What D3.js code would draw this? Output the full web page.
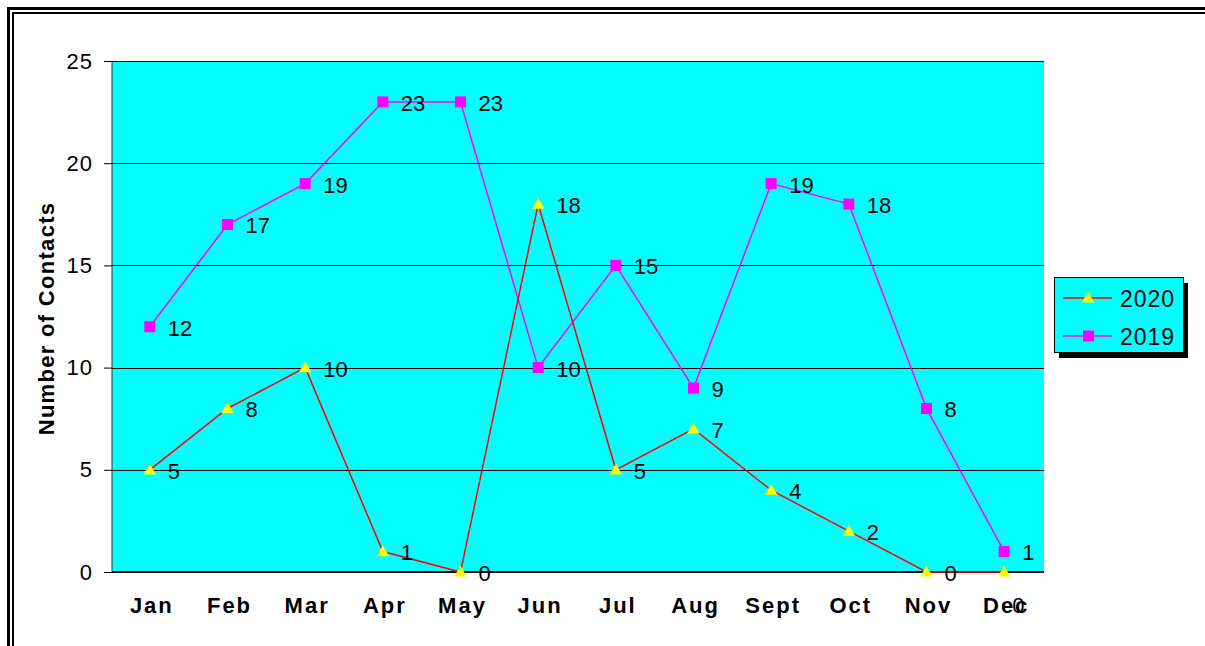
<!DOCTYPE html>
<html>
<head>
<meta charset="utf-8">
<script src="https://cdn.jsdelivr.net/npm/d3@7"></script>
<style>
  body { margin: 0; background: #fff; }
  svg { display: block; font-family: "Liberation Sans", Arial, sans-serif; }
</style>
</head>
<body>
<script>
// chart data
const months = ["Jan", "Feb", "Mar", "Apr", "May", "Jun", "Jul", "Aug", "Sept", "Oct", "Nov", "Dec"];
const values2020 = [5, 8, 10, 1, 0, 18, 5, 7, 4, 2, 0, 0];
const values2019 = [12, 17, 19, 23, 23, 10, 15, 9, 19, 18, 8, 1];
const yTicks = [0, 5, 10, 15, 20, 25];
const seriesNames = ["2020", "2019"];

const W = 1205, H = 646;
const plot = {left: 112, top: 61, right: 1044, bottom: 572};

const svg = d3.select("body").append("svg")
  .attr("width", W)
  .attr("height", H);

// double frame round the chart
svg.append("rect").attr("x", 8.5).attr("y", 8.5).attr("width", W + 20).attr("height", H + 20)
  .attr("fill", "none").attr("stroke", "#000").attr("stroke-width", 3);
svg.append("rect").attr("x", 13).attr("y", 13).attr("width", W + 20).attr("height", H + 20)
  .attr("fill", "none").attr("stroke", "#000").attr("stroke-width", 2);

const x = d3.scaleBand().domain(months).range([plot.left, plot.right]);
const y = d3.scaleLinear().domain([0, 25]).range([plot.bottom, plot.top]);
const cx = m => x(m) + x.bandwidth() / 2 - 1;

// plot background
svg.append("rect")
  .attr("x", plot.left).attr("y", plot.top)
  .attr("width", plot.right - plot.left).attr("height", plot.bottom - plot.top)
  .attr("fill", "#00ffff");

// gridlines
svg.append("g").selectAll("line")
  .data(yTicks.filter(t => t > 0))
  .enter().append("line")
  .attr("x1", plot.left).attr("x2", plot.right)
  .attr("y1", d => Math.round(y(d)) + 0.5).attr("y2", d => Math.round(y(d)) + 0.5)
  .attr("stroke", "#000").attr("stroke-width", 1);

// y axis
const yAxis = svg.append("g")
  .attr("transform", `translate(${plot.left},0)`)
  .call(d3.axisLeft(y).tickValues(yTicks).tickSize(8).tickPadding(11));
yAxis.selectAll("text").attr("font-size", 22).attr("fill", "#000").attr("letter-spacing", 1)
  .attr("font-family", "Liberation Sans, Arial, sans-serif");
yAxis.selectAll("line").attr("stroke", "#000");
yAxis.select(".domain").attr("stroke", "#333").attr("d", `M0,${plot.top}V${plot.bottom}`);

// x axis
const xAxis = svg.append("g")
  .attr("transform", `translate(0,${plot.bottom})`)
  .call(d3.axisBottom(x).tickSize(0).tickPadding(25));
xAxis.selectAll("text").attr("font-size", 22).attr("font-weight", "bold").attr("fill", "#000")
  .attr("letter-spacing", 2).attr("dx", 1)
  .attr("font-family", "Liberation Sans, Arial, sans-serif");
xAxis.select(".domain").attr("stroke", "#000").attr("stroke-width", 2)
  .attr("d", `M${plot.left},0H${plot.right}`);

// y axis title
svg.append("text")
  .attr("transform", `translate(54,${(plot.top + plot.bottom) / 2 + 2}) rotate(-90)`)
  .attr("text-anchor", "middle")
  .attr("font-size", 22).attr("font-weight", "bold").attr("letter-spacing", 1.3)
  .text("Number of Contacts");

const line = d3.line().x(d => cx(d.m)).y(d => y(d.v));
const rows2020 = months.map((m, i) => ({m: m, v: values2020[i], i: i}));
const rows2019 = months.map((m, i) => ({m: m, v: values2019[i], i: i}));

// 2019 series
svg.append("path").datum(rows2019)
  .attr("d", line).attr("fill", "none").attr("stroke", "#ff00ff").attr("stroke-width", 1.5);
svg.append("g").selectAll("rect")
  .data(rows2019).enter().append("rect")
  .attr("x", d => cx(d.m) - 5.5).attr("y", d => y(d.v) - 5.5)
  .attr("width", 11).attr("height", 11).attr("fill", "#ff00ff");

// 2020 series
svg.append("path").datum(rows2020)
  .attr("d", line).attr("fill", "none").attr("stroke", "#ff0000").attr("stroke-width", 1.5);
const tri = d3.symbol().type(d3.symbolTriangle).size(68);
svg.append("g").selectAll("path")
  .data(rows2020).enter().append("path")
  .attr("d", tri)
  .attr("transform", d => `translate(${cx(d.m)},${y(d.v) + 1})`)
  .attr("fill", "#ffff00");

// data labels (the last 2020 label is pushed below the axis, as in the original)
function labels(rows, isLow) {
  svg.append("g").selectAll("text")
    .data(rows).enter().append("text")
    .attr("x", d => cx(d.m) + (isLow && d.i === 11 ? 8 : 18))
    .attr("y", d => y(d.v) + (isLow && d.i === 11 ? 33 : 1))
    .attr("dy", "0.36em")
    .attr("font-size", 22)
    .text(d => d.v);
}
labels(rows2019, false);
labels(rows2020, true);

// legend
const lg = svg.append("g").attr("transform", "translate(1054,277)");
lg.append("rect").attr("x", 5).attr("y", 6).attr("width", 129).attr("height", 75).attr("fill", "#000");
lg.append("rect").attr("x", 0.5).attr("y", 0.5).attr("width", 129).attr("height", 75)
  .attr("fill", "#00ffff").attr("stroke", "#000").attr("stroke-width", 1);
const legendRows = [
  {name: seriesNames[0], color: "#ff0000", mark: "tri", yy: 21},
  {name: seriesNames[1], color: "#ff00ff", mark: "sq", yy: 59}
];
legendRows.forEach(r => {
  lg.append("line").attr("x1", 9).attr("x2", 58).attr("y1", r.yy).attr("y2", r.yy)
    .attr("stroke", r.color).attr("stroke-width", 1.5);
  if (r.mark === "tri") {
    lg.append("path").attr("d", tri).attr("transform", `translate(34,${r.yy + 1})`).attr("fill", "#ffff00");
  } else {
    lg.append("rect").attr("x", 29).attr("y", r.yy - 5.5).attr("width", 11).attr("height", 11).attr("fill", "#ff00ff");
  }
  lg.append("text").attr("x", 66).attr("y", r.yy + 1).attr("dy", "0.36em")
    .attr("font-size", 23).attr("letter-spacing", 1).text(r.name);
});
</script>
</body>
</html>
